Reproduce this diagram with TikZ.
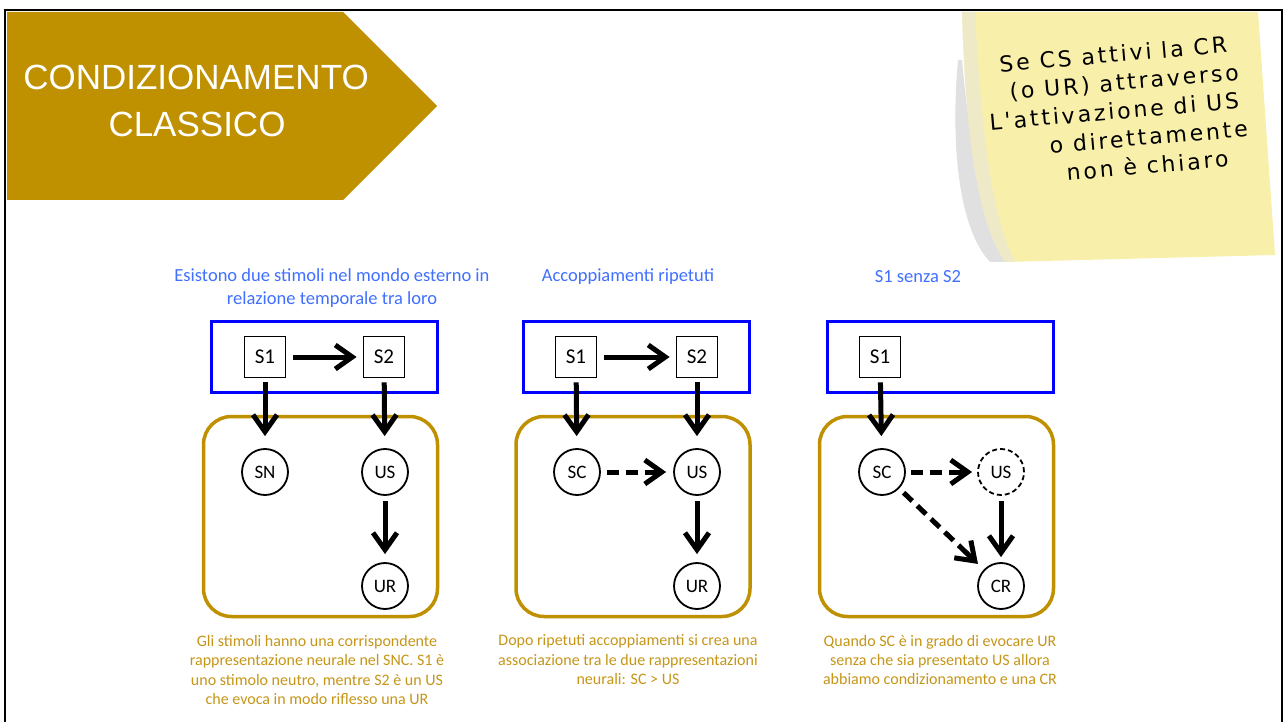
\documentclass[tikz,border=0pt]{standalone}
\usepackage{fontspec}
\setmainfont{Carlito}
\newfontfamily\titlefont{Liberation Sans}
\newfontfamily\notefont[LetterSpace=13]{DejaVu Sans}
\usetikzlibrary{arrows.meta,shapes.geometric}
\definecolor{gold}{RGB}{191,144,0}
\definecolor{txtgold}{RGB}{198,150,25}
\definecolor{hdrblue}{RGB}{64,112,255}
\definecolor{boxblue}{RGB}{0,0,255}
\definecolor{noteyellow}{RGB}{248,240,170}
\tikzset{
  sq/.style={draw, line width=1.8pt, minimum size=41pt, inner sep=0pt, font=\fontsize{21}{24}\selectfont},
  circ/.style={circle, draw, line width=1.8pt, minimum size=46pt, inner sep=0pt, font=\fontsize{19}{22}\selectfont},
  dcirc/.style={circ, dash pattern=on 5pt off 3pt},
  world/.style={draw=boxblue, line width=3pt, minimum width=226pt, minimum height=71pt, inner sep=0pt},
  brain/.style={draw=gold, line width=3.5pt, rounded corners=28pt, minimum width=234pt, minimum height=200pt, inner sep=0pt},
  arr/.style={line width=5pt, -{Straight Barb[length=17pt,width=24pt,line join=miter]}},
  dline/.style={line width=5pt, dash pattern=on 12pt off 7pt},
  hdr/.style={text=hdrblue, align=center, font=\fontsize{18.5}{22.5}\selectfont},
  captxt/.style={text=txtgold, align=center, font=\fontsize{16}{19.5}\selectfont},
  ttl/.style={text=white, font=\titlefont\fontsize{35}{42}\selectfont, inner sep=0pt},
  notetxt/.style={font=\notefont\fontsize{22}{28.5}\selectfont, rotate=5, inner sep=0pt, align=left}
}
\begin{document}
\begin{tikzpicture}[x=1pt,y=-1pt]
\useasboundingbox (0,0) rectangle (1286,722);
\fill[white] (0,0) rectangle (1286,722);
% sticky note
\fill[black!12] (958,60) .. controls (950,150) and (960,230) .. (990,262) -- (1005,262) .. controls (985,220) and (970,150) .. (962,60) -- cycle;
\fill[noteyellow] (962,12) -- (1258,12) -- (1275,255) -- (1005,262) .. controls (980,225) and (966,150) .. (962,12) -- cycle;
\fill[black!10, opacity=0.5] (1005,262) .. controls (980,225) and (966,150) .. (962,12) -- (975,12) .. controls (982,150) and (995,225) .. (1015,261) -- cycle;
\node[notetxt, anchor=north west] (note) at (983.8,56.7) {\hspace*{14.8pt}Se CS attivi la CR\\\hspace*{22.4pt}(o UR) attraverso\\L'attivazione di US\\\hspace*{57.6pt}o direttamente\\\hspace*{72.2pt}non è chiaro};
% frame
\draw[line width=2.7pt] (5,722) -- (5,10) -- (1282,10) -- (1282,722);
% title
\fill[gold] (7,12) -- (343,12) -- (437,106) -- (343,200) -- (7,200) -- cycle;
\node[ttl] (t1) at (196,77) {CONDIZIONAMENTO};
\node[ttl] (t2) at (197,124) {CLASSICO};
% headers
\node[hdr] (h1) at (332,288) {Esistono due stimoli nel mondo esterno in\\relazione temporale tra loro};
\node[hdr] (h2) at (628,277) {Accoppiamenti ripetuti};
\node[hdr] (h3) at (918,277) {S1 senza S2};
% panel 1
\node[world] (w1) at (324,357) {};
\node[brain] (b1) at (320.5,516.5) {};
\node[sq] (p1s1) at (265,357) {S1};
\node[sq] (p1s2) at (384,357) {S2};
\node[circ] (p1sn) at (265,472) {SN};
\node[circ] (p1us) at (385,472) {US};
\node[circ] (p1ur) at (385,586) {UR};
\draw[arr, shorten <=7pt, shorten >=6pt] (p1s1) -- (p1s2);
\draw[arr, shorten <=4pt, shorten >=12pt] (p1s1) -- (p1sn);
\draw[arr, shorten <=4pt, shorten >=12pt] (p1s2) -- (p1us);
\draw[arr, shorten <=5pt, shorten >=8pt] (p1us) -- (p1ur);
% panel 2
\node[world] (w2) at (636.5,357) {};
\node[brain] (b2) at (633,516.5) {};
\node[sq] (p2s1) at (576,357) {S1};
\node[sq] (p2s2) at (697,357) {S2};
\node[circ] (p2sc) at (577,472) {SC};
\node[circ] (p2us) at (697,472) {US};
\node[circ] (p2ur) at (697,586) {UR};
\draw[arr, shorten <=7pt, shorten >=6pt] (p2s1) -- (p2s2);
\draw[arr, shorten <=4pt, shorten >=12pt] (p2s1) -- (p2sc);
\draw[arr, shorten <=4pt, shorten >=12pt] (p2s2) -- (p2us);
\draw[dline, shorten <=6pt, shorten >=17pt] (p2sc) -- (p2us);
\draw[arr, shorten <=49pt, shorten >=7pt] (p2sc) -- (p2us);
\draw[arr, shorten <=5pt, shorten >=8pt] (p2us) -- (p2ur);
% panel 3
\node[world] (w3) at (940.5,357) {};
\node[brain] (b3) at (936.5,516.5) {};
\node[sq] (p3s1) at (880,357) {S1};
\node[circ] (p3sc) at (882,472) {SC};
\node[dcirc] (p3us) at (1001,472) {US};
\node[circ] (p3cr) at (1001,586) {CR};
\draw[arr, shorten <=4pt, shorten >=12pt] (p3s1) -- (p3sc);
\draw[dline, shorten <=5pt, shorten >=15pt] (p3sc) -- (p3us);
\draw[arr, shorten <=50pt, shorten >=5pt] (p3sc) -- (p3us);
\draw[arr, shorten <=5pt, shorten >=5pt] (p3us) -- (p3cr);
\draw[dline, shorten <=6pt, shorten >=18pt] (p3sc) -- (p3cr);
\draw[arr, shorten <=92.8pt, shorten >=8pt] (p3sc) -- (p3cr);
% captions
\node[captxt] (c1) at (317,670) {Gli stimoli hanno una corrispondente\\rappresentazione neurale nel SNC. S1 è\\uno stimolo neutro, mentre S2 è un US\\che evoca in modo riflesso una UR};
\node[captxt] (c2) at (628,660) {Dopo ripetuti accoppiamenti si crea una\\associazione tra le due rappresentazioni\\neurali: SC > US};
\node[captxt] (c3) at (940,660) {Quando SC è in grado di evocare UR\\senza che sia presentato US allora\\abbiamo condizionamento e una CR};
\end{tikzpicture}
\end{document}
